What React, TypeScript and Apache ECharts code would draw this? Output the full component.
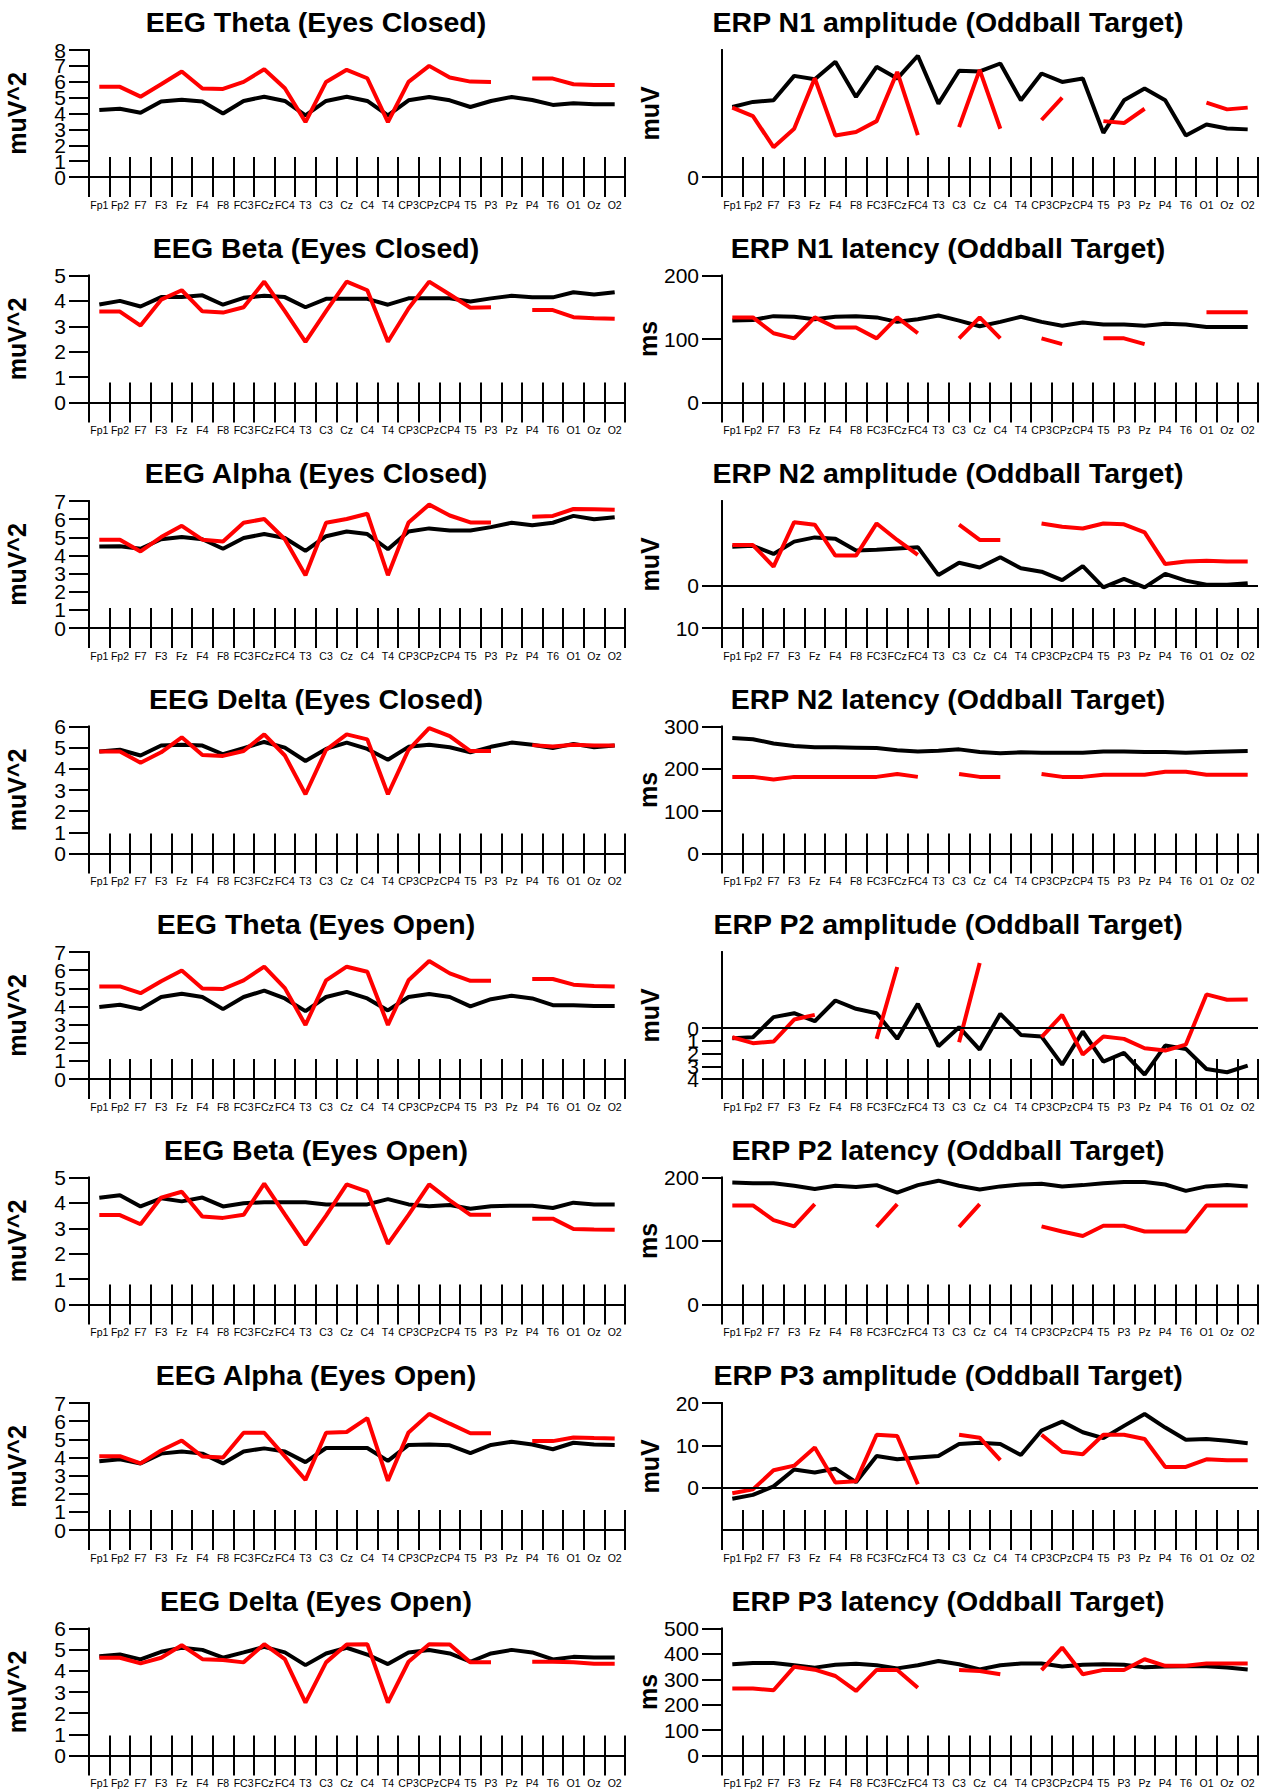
import React, { useEffect, useRef } from "react";
import * as echarts from "echarts";

const categories = ["Fp1","Fp2","F7","F3","Fz","F4","F8","FC3","FCz","FC4","T3","C3","Cz","C4","T4","CP3","CPz","CP4","T5","P3","Pz","P4","T6","O1","Oz","O2"];

const thetaClosedBlack = [4.22,4.3,4.05,4.75,4.87,4.75,4.0,4.79,5.06,4.79,3.88,4.79,5.06,4.79,3.88,4.83,5.04,4.83,4.41,4.79,5.04,4.85,4.54,4.64,4.58,4.58];
const thetaClosedRed = [5.68,5.68,5.06,5.84,6.65,5.57,5.55,5.99,6.79,5.59,3.46,5.99,6.75,6.22,3.46,5.99,7.0,6.27,6.01,5.99,null,6.2,6.2,5.84,5.8,5.8];
const betaClosedBlack = [3.86,4.0,3.78,4.15,4.15,4.22,3.85,4.12,4.2,4.15,3.75,4.08,4.08,4.08,3.85,4.1,4.1,4.1,3.98,4.1,4.2,4.14,4.14,4.34,4.25,4.34];
const betaClosedRed = [3.58,3.58,3.03,4.05,4.42,3.59,3.54,3.75,4.76,3.6,2.39,3.6,4.76,4.42,2.39,3.7,4.76,4.25,3.73,3.75,null,3.64,3.64,3.36,3.32,3.3];
const alphaClosedBlack = [4.49,4.51,4.37,4.89,5.01,4.89,4.37,4.96,5.18,4.96,4.25,5.06,5.32,5.18,4.34,5.32,5.49,5.37,5.37,5.56,5.8,5.66,5.8,6.18,5.99,6.11];
const alphaClosedRed = [4.87,4.87,4.22,5.01,5.63,4.87,4.77,5.8,6.01,4.89,2.91,5.8,6.01,6.3,2.91,5.82,6.8,6.2,5.82,5.82,null,6.13,6.18,6.56,6.54,6.52];
const deltaClosedBlack = [4.82,4.9,4.63,5.1,5.14,5.1,4.69,4.98,5.27,5.0,4.37,4.94,5.24,4.94,4.43,5.04,5.14,5.02,4.78,5.04,5.24,5.14,4.98,5.18,5.02,5.1];
const deltaClosedRed = [4.82,4.82,4.29,4.78,5.49,4.65,4.61,4.84,5.63,4.63,2.8,4.9,5.63,5.39,2.8,4.9,5.92,5.55,4.84,4.84,null,5.12,5.06,5.14,5.1,5.1];
const thetaOpenBlack = [3.97,4.09,3.85,4.52,4.7,4.52,3.85,4.52,4.87,4.44,3.74,4.52,4.8,4.44,3.78,4.52,4.68,4.52,4.0,4.4,4.59,4.44,4.07,4.07,4.02,4.02];
const thetaOpenRed = [5.1,5.1,4.73,5.39,5.98,4.99,4.96,5.44,6.19,5.01,2.98,5.44,6.19,5.91,2.98,5.44,6.5,5.82,5.41,5.41,null,5.51,5.51,5.2,5.13,5.1];
const betaOpenBlack = [4.2,4.3,3.86,4.18,4.06,4.21,3.86,3.99,4.03,4.03,4.03,3.94,3.94,3.94,4.15,3.94,3.87,3.92,3.77,3.87,3.89,3.89,3.8,4.01,3.94,3.94];
const betaOpenRed = [3.52,3.52,3.16,4.21,4.44,3.46,3.41,3.53,4.76,3.55,2.35,3.5,4.73,4.44,2.39,3.53,4.73,4.1,3.53,3.53,null,3.38,3.38,2.97,2.95,2.94];
const alphaOpenBlack = [3.79,3.9,3.67,4.21,4.33,4.21,3.67,4.33,4.5,4.33,3.74,4.52,4.52,4.52,3.81,4.69,4.71,4.67,4.24,4.69,4.86,4.71,4.45,4.81,4.71,4.69];
const alphaOpenRed = [4.07,4.07,3.67,4.38,4.93,4.05,4.0,5.36,5.36,4.06,2.76,5.36,5.4,6.17,2.71,5.38,6.4,5.86,5.33,5.33,null,4.9,4.9,5.1,5.07,5.05];
const deltaOpenBlack = [4.69,4.77,4.54,4.9,5.09,4.99,4.62,4.87,5.13,4.87,4.27,4.82,5.09,4.77,4.32,4.87,4.98,4.82,4.43,4.82,4.99,4.87,4.54,4.66,4.63,4.63];
const deltaOpenRed = [4.62,4.62,4.35,4.62,5.21,4.55,4.51,4.4,5.26,4.55,2.5,4.4,5.24,5.26,2.5,4.43,5.26,5.24,4.4,4.4,null,4.43,4.43,4.4,4.33,4.33];

const n1AmpBlack = [4.41,4.73,4.83,6.37,6.16,7.26,5.04,6.94,6.2,7.64,4.62,6.69,6.65,7.15,4.83,6.52,5.99,6.2,2.78,4.83,5.57,4.83,2.62,3.31,3.06,3.0];
const n1AmpRed = [4.37,3.84,1.88,3.04,6.22,2.62,2.83,3.52,6.62,2.64,null,3.14,6.75,3.04,null,3.59,5.0,null,3.52,3.4,4.3,null,null,4.68,4.26,4.37];
const n1LatBlack = [129,130,136,135,131,135,136,134,127,131,137,129,120,127,135,127,121,126,123,123,121,124,123,119,119,119];
const n1LatRed = [134,134,109,101,134,118,118,101,134,109,null,101,134,101,null,101,92,null,101,101,92,null,null,142,142,142];
const n2AmpBlack = [-9.2,-9.4,-7.5,-10.4,-11.4,-11.1,-8.3,-8.5,-8.8,-9.1,-2.5,-5.4,-4.3,-6.7,-4.1,-3.3,-1.3,-4.6,0.4,-1.6,0.4,-2.8,-1.2,-0.2,-0.2,-0.6];
const n2AmpRed = [-9.6,-9.6,-4.5,-15.0,-14.4,-7.1,-7.1,-14.7,-10.8,-7.3,null,-14.4,-10.8,-10.8,null,-14.7,-13.9,-13.5,-14.7,-14.5,-12.6,-5.1,-5.7,-5.9,-5.7,-5.7];
const n2LatBlack = [273,270,260,254,251,251,250,249,244,241,243,246,240,237,239,238,238,238,241,241,240,240,238,240,241,242];
const n2LatRed = [181,181,175,181,181,181,181,181,188,181,null,188,181,181,null,188,181,181,186,186,186,193,193,186,186,186];
const p2AmpBlack = [0.79,0.71,-0.87,-1.18,-0.55,-2.18,-1.53,-1.18,0.84,-1.92,1.42,-0.08,1.68,-1.13,0.53,0.66,2.87,0.26,2.63,1.95,3.66,1.37,1.63,3.21,3.47,2.95];
const p2AmpRed = [0.71,1.18,1.05,-0.68,-1.05,null,null,0.84,-4.82,null,null,1.1,-5.13,null,null,0.71,-1.05,2.08,0.66,0.84,1.58,1.76,1.29,-2.66,-2.24,-2.26];
const p2LatBlack = [192,191,191,187,182,187,185,188,176,188,195,187,181,186,189,190,186,188,191,193,193,189,179,186,188,186];
const p2LatRed = [156,156,133,123,158,null,null,122,158,null,null,122,158,null,null,123,115,108,124,124,115,115,115,156,156,156];
const p3AmpBlack = [-2.6,-1.7,0.3,4.3,3.6,4.5,1.3,7.5,6.7,7.1,7.5,10.3,10.6,10.3,7.7,13.5,15.6,13.1,11.7,14.6,17.4,14.2,11.3,11.5,11.1,10.5];
const p3AmpRed = [-1.3,-0.4,4.1,5.2,9.5,1.2,1.5,12.5,12.2,0.8,null,12.5,11.8,6.5,null,12.5,8.5,7.9,12.5,12.5,11.5,4.9,4.9,6.7,6.5,6.5];
const p3LatBlack = [359,364,364,355,346,357,361,355,343,355,372,359,339,355,362,362,350,357,359,357,347,350,351,351,346,339];
const p3LatRed = [264,264,257,349,338,313,254,337,337,267,null,337,333,320,null,336,425,320,337,337,379,353,353,362,362,362];

const titles = [
  "EEG Theta (Eyes Closed)", "ERP N1 amplitude (Oddball Target)",
  "EEG Beta (Eyes Closed)", "ERP N1 latency (Oddball Target)",
  "EEG Alpha (Eyes Closed)", "ERP N2 amplitude (Oddball Target)",
  "EEG Delta (Eyes Closed)", "ERP N2 latency (Oddball Target)",
  "EEG Theta (Eyes Open)", "ERP P2 amplitude (Oddball Target)",
  "EEG Beta (Eyes Open)", "ERP P2 latency (Oddball Target)",
  "EEG Alpha (Eyes Open)", "ERP P3 amplitude (Oddball Target)",
  "EEG Delta (Eyes Open)", "ERP P3 latency (Oddball Target)",
];

// y tick labels shown on each panel's axis
const yTicks: number[][] = [
  [0, 1, 2, 3, 4, 5, 6, 7, 8], [0],
  [0, 1, 2, 3, 4, 5], [0, 100, 200],
  [0, 1, 2, 3, 4, 5, 6, 7], [0, 10],
  [0, 1, 2, 3, 4, 5, 6], [0, 100, 200, 300],
  [0, 1, 2, 3, 4, 5, 6, 7], [0, 1, 2, 3, 4],
  [0, 1, 2, 3, 4, 5], [0, 100, 200],
  [0, 1, 2, 3, 4, 5, 6, 7], [0, 10, 20],
  [0, 1, 2, 3, 4, 5, 6], [0, 100, 200, 300, 400, 500],
];

type Panel = {
  black: (number | null)[];
  red: (number | null)[];
  yName: string;
  min: number;
  max: number;
  inverse?: boolean;
  zero?: boolean;
};

const panels: Panel[] = [
  { black: thetaClosedBlack, red: thetaClosedRed, yName: "muV^2", min: 0, max: 8 },
  { black: n1AmpBlack, red: n1AmpRed, yName: "muV", min: 0, max: 8 },
  { black: betaClosedBlack, red: betaClosedRed, yName: "muV^2", min: 0, max: 5 },
  { black: n1LatBlack, red: n1LatRed, yName: "ms", min: 0, max: 200 },
  { black: alphaClosedBlack, red: alphaClosedRed, yName: "muV^2", min: 0, max: 7 },
  { black: n2AmpBlack, red: n2AmpRed, yName: "muV", min: -20, max: 10, inverse: true, zero: true },
  { black: deltaClosedBlack, red: deltaClosedRed, yName: "muV^2", min: 0, max: 6 },
  { black: n2LatBlack, red: n2LatRed, yName: "ms", min: 0, max: 300 },
  { black: thetaOpenBlack, red: thetaOpenRed, yName: "muV^2", min: 0, max: 7 },
  { black: p2AmpBlack, red: p2AmpRed, yName: "muV", min: -6, max: 4, inverse: true, zero: true },
  { black: betaOpenBlack, red: betaOpenRed, yName: "muV^2", min: 0, max: 5 },
  { black: p2LatBlack, red: p2LatRed, yName: "ms", min: 0, max: 200 },
  { black: alphaOpenBlack, red: alphaOpenRed, yName: "muV^2", min: 0, max: 7 },
  { black: p3AmpBlack, red: p3AmpRed, yName: "muV", min: -10, max: 20, zero: true },
  { black: deltaOpenBlack, red: deltaOpenRed, yName: "muV^2", min: 0, max: 6 },
  { black: p3LatBlack, red: p3LatRed, yName: "ms", min: 0, max: 500 },
];

const FONT = "'Liberation Sans', Arial, Helvetica, sans-serif";

export default function App() {
  const ref = useRef<HTMLDivElement>(null);
  useEffect(() => {
    if (!ref.current) return;
    const chart = echarts.init(ref.current, undefined, { renderer: "svg" });
    const grids: any[] = [];
    const xAxes: any[] = [];
    const yAxes: any[] = [];
    const series: any[] = [];
    const graphics: any[] = [];
    const rowStep = 225.5;
    const axisLineStyle = { color: "#000", width: 2 };
    panels.forEach((p, i) => {
      const col = i % 2;
      const row = Math.floor(i / 2);
      const left = col === 0 ? 89 : 722;
      const top = 50 + rowStep * row;
      grids.push({ left, top, width: 536, height: 127, containLabel: false });
      const baseX = {
        type: "category",
        gridIndex: i,
        data: categories,
        position: "bottom",
        boundaryGap: true,
        axisLine: { show: true, onZero: false, lineStyle: axisLineStyle },
        splitLine: { show: false },
      };
      xAxes.push({
        ...baseX,
        axisTick: { show: true, inside: true, length: 20, interval: 0, lineStyle: axisLineStyle },
        axisLabel: { show: true, interval: 0, margin: 22, fontSize: 10.5, color: "#000", fontFamily: FONT },
      });
      xAxes.push({
        ...baseX,
        axisTick: { show: true, inside: false, length: 20, interval: 0, lineStyle: axisLineStyle },
        axisLabel: { show: false },
      });
      const ticks = yTicks[i];
      const evens = ticks.filter((_, k) => k % 2 === 0);
      const odds = ticks.filter((_, k) => k % 2 === 1);
      const makeY = (vals: number[], withName: boolean) => {
        const y: any = {
          type: "value",
          gridIndex: i,
          position: "left",
          min: p.min,
          max: p.max,
          inverse: !!p.inverse,
          axisLine: { show: true, onZero: false, lineStyle: axisLineStyle },
          axisTick: { show: vals.length > 0, inside: false, length: 20, lineStyle: axisLineStyle },
          axisLabel: {
            show: vals.length > 0,
            margin: 23,
            fontSize: 21,
            color: "#000",
            fontFamily: FONT,
            showMinLabel: true,
            showMaxLabel: true,
          },
          splitLine: { show: false },
        };
        if (vals.length > 0) {
          y.axisTick.customValues = vals;
          y.axisLabel.customValues = vals;
        }
        if (withName) {
          y.name = p.yName;
          y.nameLocation = "middle";
          y.nameGap = 60;
          y.nameRotate = 90;
          y.nameTextStyle = { fontSize: 25, fontWeight: "bold", color: "#000", fontFamily: FONT };
        }
        return y;
      };
      yAxes.push(makeY(evens, true));
      yAxes.push(makeY(odds, false));
      const blackSeries: any = {
        type: "line",
        xAxisIndex: 2 * i,
        yAxisIndex: 2 * i,
        data: p.black,
        symbol: "none",
        showSymbol: false,
        connectNulls: false,
        lineStyle: { color: "#000", width: 4 },
        itemStyle: { color: "#000" },
        z: 3,
      };
      if (p.zero) {
        blackSeries.markLine = {
          silent: true,
          symbol: "none",
          label: { show: false },
          lineStyle: { color: "#000", width: 2, type: "solid" },
          data: [{ yAxis: 0 }],
        };
      }
      series.push(blackSeries);
      series.push({
        type: "line",
        xAxisIndex: 2 * i,
        yAxisIndex: 2 * i,
        data: p.red,
        symbol: "none",
        showSymbol: false,
        connectNulls: false,
        lineStyle: { color: "#ff0000", width: 4 },
        itemStyle: { color: "#ff0000" },
        z: 4,
      });
      graphics.push({
        type: "text",
        x: col === 0 ? 316 : 948,
        y: 22 + rowStep * row,
        style: {
          text: titles[i],
          font: `bold 28.5px ${FONT}`,
          fill: "#000",
          align: "center",
          verticalAlign: "middle",
          textAlign: "center",
          textVerticalAlign: "middle",
        },
      });
    });
    chart.setOption({
      animation: false,
      backgroundColor: "#fff",
      grid: grids,
      xAxis: xAxes,
      yAxis: yAxes,
      series,
      graphic: graphics,
    });
    return () => chart.dispose();
  }, []);
  return (
    <div
      ref={ref}
      style={{ position: "absolute", left: 0, top: 0, width: 1265, height: 1789, background: "#fff" }}
    />
  );
}
